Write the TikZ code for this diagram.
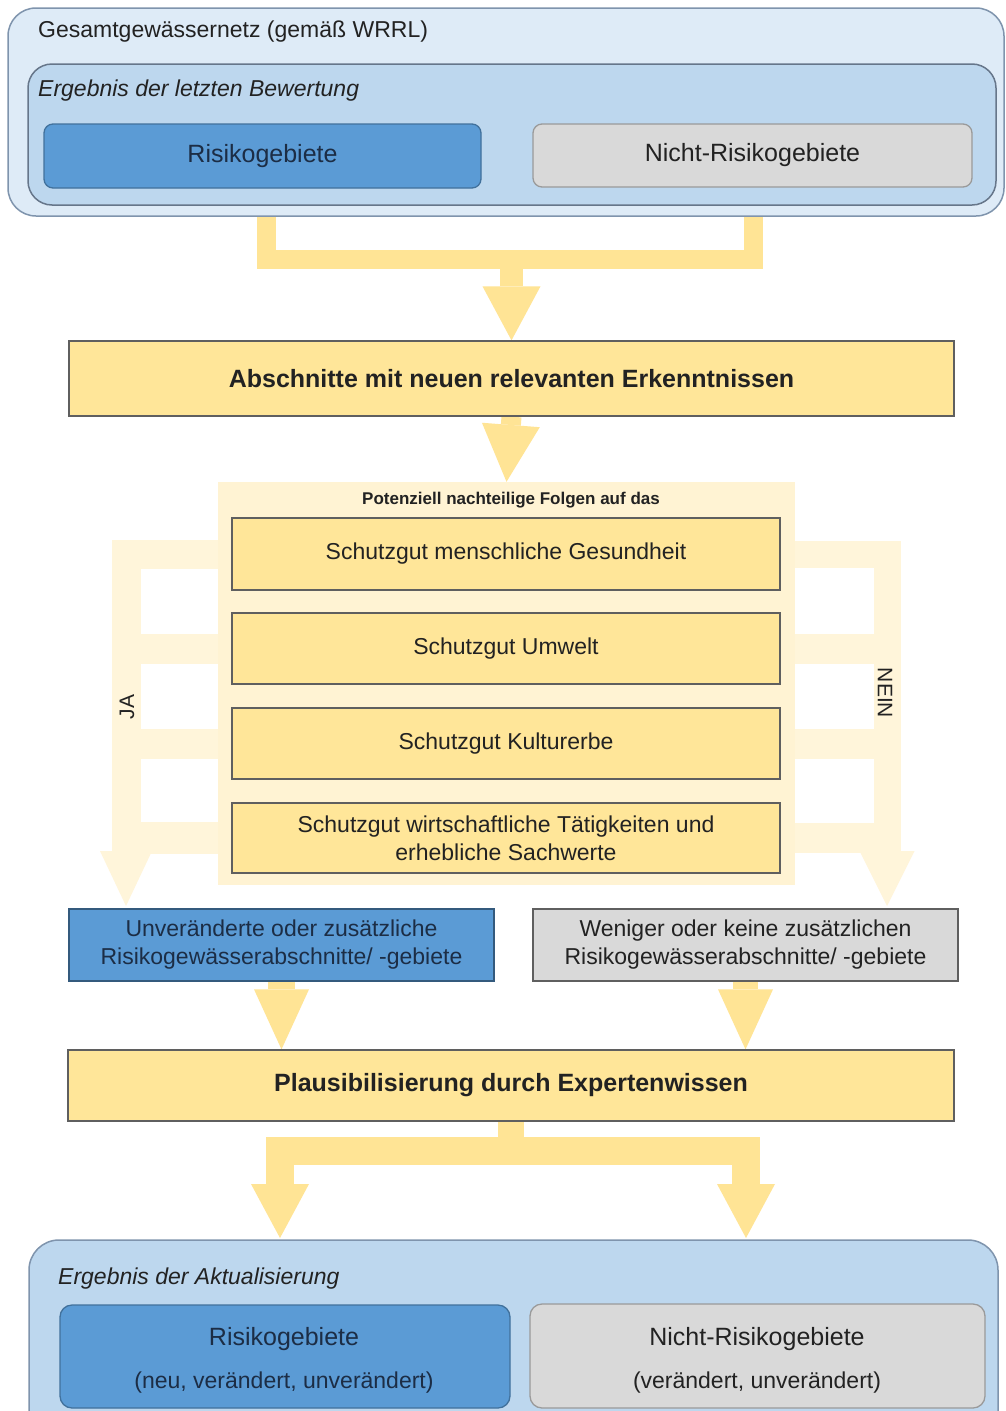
\documentclass[tikz,border=0pt]{standalone}
\usepackage{fontspec}
\setmainfont{Liberation Sans}
\usetikzlibrary{arrows.meta,calc}
\pgfdeclarelayer{bg}
\pgfdeclarelayer{canvas}
\pgfsetlayers{canvas,bg,main}
\definecolor{boxyellow}{HTML}{FFE699}
\definecolor{arrowyellow}{HTML}{FFE495}
\definecolor{paleyellow}{HTML}{FFF3D3}
\definecolor{palearrow}{HTML}{FFF5DA}
\definecolor{outerblue}{HTML}{DEEBF7}
\definecolor{innerblue}{HTML}{BDD7EE}
\definecolor{riskblue}{HTML}{5B9BD5}
\definecolor{riskborder}{HTML}{41719C}
\definecolor{greyfill}{HTML}{D9D9D9}
\definecolor{greyborder}{HTML}{9A9A9A}
\definecolor{blueborder}{HTML}{7F94AD}
\definecolor{darkline}{HTML}{5F5F5F}
\definecolor{txt}{HTML}{222222}
\definecolor{txtblue}{HTML}{1C2D45}
\newcommand\fsReg{\fontsize{23}{28}\selectfont}
\newcommand\fsBig{\fontsize{25}{30}\selectfont}
\newcommand\fsSmall{\fontsize{17}{20}\selectfont}
\newcommand\fsSide{\fontsize{21}{25}\selectfont}
\tikzset{
  x=1pt, y=-1pt,
  container/.style={draw=blueborder, line width=1.5pt, inner sep=0pt},
  riskbox/.style={draw=riskborder, fill=riskblue, line width=1.3pt, inner sep=0pt, align=center, text=txtblue},
  greybox/.style={draw=greyborder, fill=greyfill, line width=1.3pt, inner sep=0pt, align=center, text=txt},
  yellowbox/.style={draw=darkline, fill=boxyellow, line width=1.3pt, inner sep=0pt, align=center, text=txt},
  label/.style={inner sep=0pt, text=txt},
  fat/.style={draw=arrowyellow, line cap=butt, line join=miter},
  pale/.style={draw=palearrow, line cap=butt, line join=miter},
}
\begin{document}
\begin{tikzpicture}
\useasboundingbox (0,0) rectangle (1006,1411);
\begin{pgfonlayer}{canvas}
\fill[white] (0,0) rectangle (1006,1411);
\end{pgfonlayer}
\clip (0,0) rectangle (1006,1411);

% top containers
\node[container, fill=outerblue, rounded corners=28pt, minimum width=996pt, minimum height=208pt] (outer) at (506,112) {};
\node[label, anchor=west, font=\fsReg] (t1) at (38,32) {Gesamtgewässernetz (gemäß WRRL)};
\node[container, draw=blueborder!80!black, fill=innerblue, rounded corners=24pt, minimum width=968pt, minimum height=141pt] (inner) at (512,134.5) {};
\node[label, anchor=west, font=\fsReg\itshape] (t2) at (38,91) {Ergebnis der letzten Bewertung};
\node[riskbox, rounded corners=9pt, minimum width=437pt, minimum height=64pt, font=\fsBig] (risk) at (262.5,156) {Risikogebiete};
\node[greybox, rounded corners=9pt, minimum width=439pt, minimum height=63pt, font=\fsBig] (nrisk) at (752.5,155.5) {Nicht-Risikogebiete};

% first yellow box
\node[yellowbox, minimum width=885pt, minimum height=75pt, font=\fsBig\bfseries] (ab) at (511.5,378.5) {Abschnitte mit neuen relevanten Erkenntnissen};

% pale panel
\node[draw=none, fill=paleyellow, inner sep=0pt, minimum width=577pt, minimum height=403pt] (panel) at (506.5,683.5) {};
\node[label, font=\fsSmall\bfseries] (t3) at (511,500) {Potenziell nachteilige Folgen auf das};
\node[yellowbox, minimum width=548pt, minimum height=72pt, font=\fsReg] (b1) at (506,554) {Schutzgut menschliche Gesundheit};
\node[yellowbox, minimum width=548pt, minimum height=71pt, font=\fsReg] (b2) at (506,648.5) {Schutzgut Umwelt};
\node[yellowbox, minimum width=548pt, minimum height=71pt, font=\fsReg] (b3) at (506,743.5) {Schutzgut Kulturerbe};
\node[yellowbox, minimum width=548pt, minimum height=70pt, font=\fsReg] (b4) at (506,838) {Schutzgut wirtschaftliche Tätigkeiten und\\erhebliche Sachwerte};

\node[label, rotate=90, font=\fsSide] (ja) at (127,707) {JA};
\node[label, rotate=-90, font=\fsSide] (nein) at (885,693) {NEIN};

% result boxes
\node[riskbox, draw=riskborder!80!black, minimum width=425pt, minimum height=72pt, font=\fsReg] (uv) at (281.5,945) {Unveränderte oder zusätzliche\\Risikogewässerabschnitte/ -gebiete};
\node[greybox, draw=darkline, minimum width=425pt, minimum height=72pt, font=\fsReg] (wk) at (745.5,945) {Weniger oder keine zusätzlichen\\Risikogewässerabschnitte/ -gebiete};

\node[yellowbox, minimum width=886pt, minimum height=71pt, font=\fsBig\bfseries] (plaus) at (511,1085.5) {Plausibilisierung durch Expertenwissen};

% bottom containers
\node[container, fill=innerblue, rounded corners=30pt, minimum width=969pt, minimum height=210pt] (outer2) at (513.5,1345) {};
\node[label, anchor=west, font=\fsReg\itshape] (t4) at (58,1279) {Ergebnis der Aktualisierung};
\node[riskbox, rounded corners=12pt, minimum width=450pt, minimum height=103pt] (r2) at (285,1356.5) {};
\node[greybox, rounded corners=12pt, minimum width=455pt, minimum height=104pt] (n2) at (757.5,1356) {};
\node[label, text=txtblue, font=\fsBig] (r2a) at (284,1339) {Risikogebiete};
\node[label, text=txtblue, font=\fsReg] (r2b) at (284,1383) {(neu, verändert, unverändert)};
\node[label, font=\fsBig] (n2a) at (757,1339) {Nicht-Risikogebiete};
\node[label, font=\fsReg] (n2b) at (757,1383) {(verändert, unverändert)};

% connectors
\coordinate (tl) at (266,216);
\coordinate (tr) at (753,216);
\coordinate (j1) at (511.5,259);
\coordinate (jaEnd) at (126,906);
\coordinate (neEnd) at (887,906);
\coordinate (j2) at (511,1151);
\coordinate (blEnd) at (280,1238);
\coordinate (brEnd) at (746,1238);

\begin{pgfonlayer}{bg}
\draw[fat, line width=19pt] (tl) |- (j1);
\draw[fat, line width=19pt] (tr) |- (j1);
\draw[fat, line width=23pt, -{Triangle[length=54pt,width=58pt,line width=0pt]}] (j1) -- (ab.north);
\draw[fat, line width=20pt, -{Triangle[length=57pt,width=58pt,line width=0pt]}] (ab.south) -- (panel.north);

\draw[pale, line width=29pt, -{Triangle[length=55pt,width=52pt,line width=0pt]}] (b1.west) -| (jaEnd);
\draw[pale, line width=30pt] (b2.west) -- (b2.west -| jaEnd);
\draw[pale, line width=30pt] (b3.west) -- (b3.west -| jaEnd);
\draw[pale, line width=32pt] (b4.west) -- (b4.west -| jaEnd);

\draw[pale, line width=27pt, -{Triangle[length=55pt,width=55pt,line width=0pt]}] (b1.east) -| (neEnd);
\draw[pale, line width=30pt] (b2.east) -- (b2.east -| neEnd);
\draw[pale, line width=30pt] (b3.east) -- (b3.east -| neEnd);
\draw[pale, line width=30pt] (b4.east) -- (b4.east -| neEnd);

\draw[fat, line width=27pt, -{Triangle[length=60pt,width=55pt,line width=0pt]}] (uv.south) -- (uv.south |- plaus.north);
\draw[fat, line width=25pt, -{Triangle[length=60pt,width=55pt,line width=0pt]}] (wk.south) -- (wk.south |- plaus.north);

\draw[fat, line width=26pt] (plaus.south) -- (j2);
\draw[fat, line width=28pt, -{Triangle[length=54pt,width=58pt,line width=0pt]}] (j2) -| (blEnd);
\draw[fat, line width=28pt, -{Triangle[length=54pt,width=58pt,line width=0pt]}] (j2) -| (brEnd);
\end{pgfonlayer}
\end{tikzpicture}
\end{document}
